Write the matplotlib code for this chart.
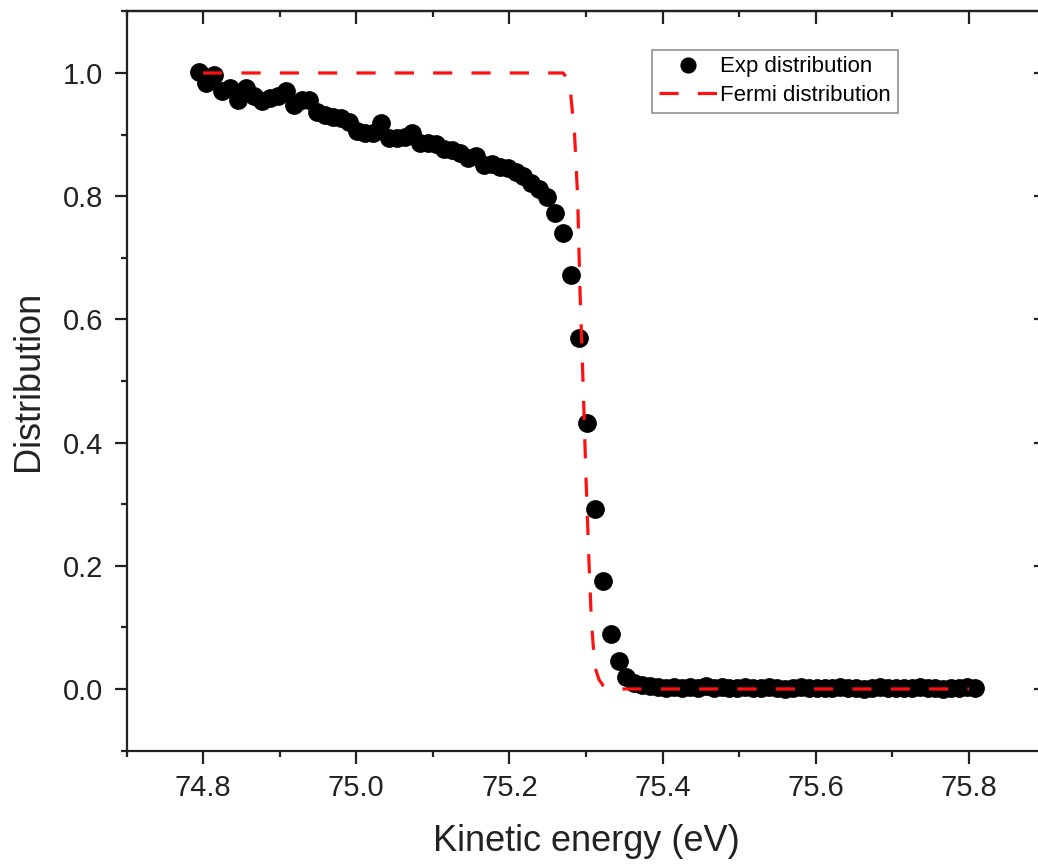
import numpy as np
import matplotlib
matplotlib.use("Agg")
import matplotlib.pyplot as plt
from matplotlib.ticker import MultipleLocator

plt.rcParams['font.family'] = ['Liberation Sans', 'DejaVu Sans']

# measured distribution (energy grid is evenly spaced)
exp_energy = np.linspace(74.794, 75.808, 99)
exp_dist = [
    1.002, 0.983, 0.997, 0.970, 0.976, 0.956, 0.976, 0.962, 0.954, 0.960,
    0.962, 0.970, 0.948, 0.956, 0.956, 0.937, 0.932, 0.929, 0.927, 0.921,
    0.905, 0.902, 0.902, 0.918, 0.894, 0.894, 0.896, 0.902, 0.886, 0.886,
    0.884, 0.876, 0.875, 0.870, 0.862, 0.866, 0.850, 0.853, 0.848, 0.846,
    0.840, 0.832, 0.822, 0.811, 0.798, 0.772, 0.740, 0.672, 0.570, 0.432,
    0.292, 0.175, 0.090, 0.045, 0.020, 0.010, 0.006, 0.004, 0.003, 0.002,
    0.003, 0.001, 0.003, 0.002, 0.004, 0.002, 0.003, 0.001, 0.002, 0.003,
    0.002, 0.001, 0.003, 0.002, 0.000, 0.002, 0.003, 0.001, 0.002, 0.002,
    0.001, 0.003, 0.002, 0.001, 0.000, 0.002, 0.003, 0.001, 0.002, 0.001,
    0.002, 0.003, 0.001, 0.002, 0.000, 0.001, 0.002, 0.003, 0.001,
]

# fitted Fermi curve
fermi_energy = [74.80, 75.27, 75.275, 75.28, 75.285, 75.289, 75.292, 75.296,
                75.300, 75.304, 75.307, 75.310, 75.313, 75.317, 75.322,
                75.328, 75.335, 75.80]
fermi_dist = [1.0, 1.0, 0.992, 0.965, 0.90, 0.80, 0.65, 0.50,
              0.34, 0.20, 0.11, 0.06, 0.03, 0.015, 0.006,
              0.002, 0.0, 0.0]

xticks = [74.8, 75.0, 75.2, 75.4, 75.6, 75.8]
yticks = [0.0, 0.2, 0.4, 0.6, 0.8, 1.0]

fig = plt.figure(figsize=(10.38, 8.68), dpi=100)
ax = fig.add_axes([0.1219, 0.1353, 0.8854, 0.8516])

ax.plot(exp_energy, exp_dist, 'o', color='black', markersize=12.5,
        linestyle='none', label='Exp distribution', zorder=2)
ax.plot(fermi_energy, fermi_dist, color='#ff1010', linewidth=2.3,
        dashes=(6, 6), label='Fermi distribution', zorder=3)

ax.set_xlim(74.7, 75.9)
ax.set_ylim(-0.1, 1.1)
ax.set_xticks(xticks)
ax.set_yticks(yticks)
ax.xaxis.set_minor_locator(MultipleLocator(0.1))
ax.yaxis.set_minor_locator(MultipleLocator(0.1))
ax.set_xticklabels([f"{v:.1f}" for v in xticks])
ax.set_yticklabels([f"{v:.1f}" for v in yticks])

for s in ax.spines.values():
    s.set_linewidth(1.6)
    s.set_color('#222222')

ax.tick_params(which='both', direction='out', width=1.6, color='#222222',
               labelsize=21, labelcolor='#222222', pad=8)
ax.tick_params(which='major', length=9)
ax.tick_params(which='minor', length=4.5)
# mirrored ticks on top and right point inward
sec_x = ax.secondary_xaxis('top')
sec_x.set_xticks(xticks)
sec_x.xaxis.set_minor_locator(MultipleLocator(0.1))
sec_x.tick_params(which='both', direction='in', width=1.6, color='#222222',
                  labeltop=False)
sec_x.tick_params(which='major', length=9)
sec_x.tick_params(which='minor', length=4.5)
sec_x.spines['top'].set_linewidth(1.6)
sec_y = ax.secondary_yaxis('right')
sec_y.set_yticks(yticks)
sec_y.yaxis.set_minor_locator(MultipleLocator(0.1))
sec_y.tick_params(which='both', direction='in', width=1.6, color='#222222',
                  labelright=False)
sec_y.tick_params(which='major', length=9)
sec_y.tick_params(which='minor', length=4.5)

ax.set_xlabel("Kinetic energy (eV)", fontsize=26, color='#222222', labelpad=16)
ax.set_ylabel("Distribution", fontsize=26, color='#222222', labelpad=12)

leg = ax.legend(loc='upper right', bbox_to_anchor=(0.839, 0.948), fontsize=16,
                frameon=True, fancybox=False, edgecolor='#777777',
                handlelength=2.6, handletextpad=0.15, borderpad=0.3,
                labelspacing=0.35, borderaxespad=0, markerscale=0.85)
leg.get_frame().set_linewidth(1.2)

fig.savefig("out.png", dpi=100)
